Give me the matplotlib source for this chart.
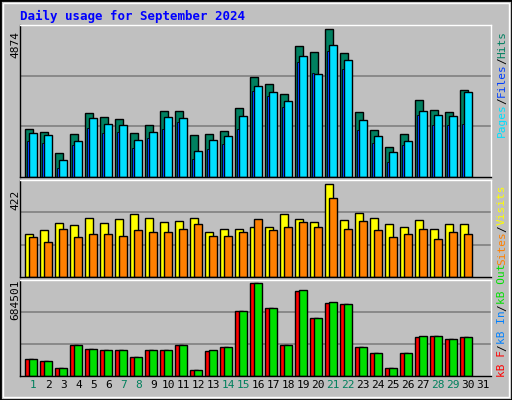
import matplotlib
matplotlib.use("Agg")
import matplotlib.pyplot as plt
from matplotlib.patches import Rectangle

days = list(range(1, 31))
day_labels = [str(d) for d in range(1, 32)]
weekend = [1, 7, 8, 14, 15, 21, 22, 28, 29]

hits = [1566,1467,805,1400,2095,1963,1897,1433,1698,2161,2161,1367,1400,1500,2261,
        3286,3054,2724,4311,4113,4874,4080,2128,1533,1003,1400,2525,2194,2128,2856]
files = [1433,1367,573,1202,1930,1731,1698,1235,1467,1963,1930,871,1235,1334,1996,
         2988,2790,2492,3981,3385,4345,3848,1864,1334,838,1202,2161,2029,1996,2790]
pages = [1202,1136,309,1070,1599,1433,1467,970,1268,1566,1797,606,937,1103,1566,
         2823,2657,2294,3782,3418,4146,3551,1533,1136,507,1070,2029,1698,1698,1731]
visits = [197,211,243,234,266,243,261,284,266,248,252,266,206,220,216,
          229,229,284,261,248,422,257,289,266,239,229,257,220,239,239]
sites = [183,161,216,183,193,197,188,211,202,206,220,239,188,188,206,
         261,211,225,248,229,358,220,252,211,183,193,216,174,206,193]
kb_out = [122,114,62,226,197,189,189,137,189,189,226,47,189,212,480,
          684.501,503,226,637,428,548,533,212,167,62,167,294,294,271,286]
kb_f = [122,114,62,226,197,189,189,137,189,189,226,47,182,212,480,
        684.501,503,226,630,428,541,533,212,167,62,167,287,294,271,286]
kb_in = [2,2,1,2,2,2,2,2,2,2,2,1,2,2,3,3,3,2,3,3,3,3,2,2,1,2,2,2,2,2]

BG = "#C0C0C0"
fig = plt.figure(figsize=(5.12, 4.0), dpi=100, facecolor=BG)
fig.patches.append(Rectangle((0, 0), 1, 1, transform=fig.transFigure, fill=False,
                             edgecolor="black", lw=2))
fig.patches.append(Rectangle((0.006, 0.008), 0.988, 0.984, transform=fig.transFigure,
                             fill=False, edgecolor="white", lw=1))
mono = "DejaVu Sans Mono"
fig.text(20/512, 1-16/400, "Daily usage for September 2024", color="#0000FF",
         fontweight="bold", family=mono, fontsize=9, va="center")

def mk(rect, ymax):
    ax = fig.add_axes(rect)
    ax.set_facecolor(BG)
    ax.set_xlim(0, 31.4)
    ax.set_ylim(0, ymax)
    for g in (ymax/3, 2*ymax/3):
        ax.axhline(g, color="#808080", lw=1.2, zorder=0)
    ax.set_yticks([]); ax.set_xticks([])
    for s in ax.spines.values():
        s.set_color("black"); s.set_linewidth(1)
    ax.spines["top"].set_color("white"); ax.spines["right"].set_color("white")
    return ax

x0 = [d - 1 for d in days]
ax1 = mk([20/512, 1-177/400, 471/512, 152/400], 5006)
ax1.bar([x + 0.35 for x in x0], hits, width=0.53, align="edge", color="#008060", edgecolor="black", lw=1)
ax1.bar([x + 0.62 for x in x0], files, width=0.49, align="edge", color="#00E0FF", edgecolor="black", lw=1)
ax1.bar([x + 0.45 for x in x0], pages, width=0.12, align="edge", color="#0040FF", edgecolor="black", lw=0.6)

ax2 = mk([20/512, 1-277/400, 471/512, 97/400], 440)
ax2.bar([x + 0.35 for x in x0], visits, width=0.53, align="edge", color="#FFFF00", edgecolor="black", lw=1)
ax2.bar([x + 0.62 for x in x0], sites, width=0.49, align="edge", color="#FF8000", edgecolor="black", lw=1)

ax3 = mk([20/512, 1-376/400, 471/512, 96/400], 709)
ax3.bar([x + 0.35 for x in x0], kb_f, width=0.53, align="edge", color="#FF0000", edgecolor="black", lw=1)
ax3.bar([x + 0.45 for x in x0], kb_in, width=0.12, align="edge", color="#0080FF", edgecolor="black", lw=0.6)
ax3.bar([x + 0.62 for x in x0], kb_out, width=0.49, align="edge", color="#00E000", edgecolor="black", lw=1)

ax3.set_xticks([i - 0.11 for i in range(1, 32)])
ax3.set_xticklabels(day_labels, family=mono, fontsize=8)
ax3.tick_params(axis="x", length=0, pad=3)
for i, t in enumerate(ax3.get_xticklabels()):
    t.set_color("#00805C" if (i + 1) in weekend else "black")

for y, s in ((45/400, "4874"), (200/400, "422"), (300/400, "684501")):
    fig.text(15/512, 1-y, s, rotation=90, family=mono, fontsize=8, ha="center", va="center")

def vlabel(parts, ybottom):
    # parts listed bottom-to-top
    y = ybottom
    for s, c in parts:
        t = fig.text(502/512, y, s, rotation=90, color=c, family=mono, fontsize=8,
                     ha="center", va="bottom")
        y += len(s) * 6.6 / 400

vlabel([("Pages", "#00E0FF"), ("/", "black"), ("Files", "#0040FF"), ("/", "black"), ("Hits", "#008060")], 1-137/400)
vlabel([("kB F", "#FF0000"), ("/", "black"), ("kB In", "#0080FF"), ("/", "black"), ("kB Out", "#00E000"),
        ("Sites", "#FF8000"), ("/", "black"), ("Visits", "#FFFF00")], 1-377/400)

fig.savefig("out.png", dpi=100, facecolor=BG)
